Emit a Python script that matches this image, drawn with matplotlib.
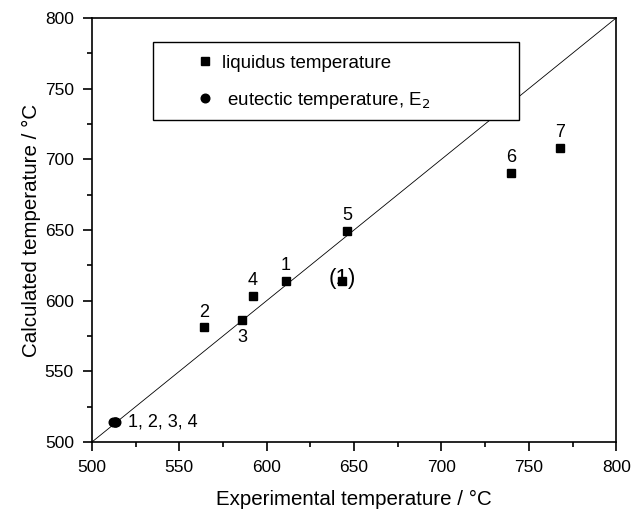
import numpy as np
import matplotlib.pyplot as plt
from matplotlib.ticker import MultipleLocator
from matplotlib.patches import Rectangle

plt.rcParams['font.family'] = ['Liberation Sans', 'DejaVu Sans']

# liquidus temperatures, experimental vs calculated
liq_exp = [611, 564, 586, 592, 646, 740, 768, 643]
liq_calc = [614, 581, 586, 603, 649, 690, 708, 614]
liq_lab = ['1', '2', '3', '4', '5', '6', '7', '(1)']

# eutectic E2, samples 1-4
eut_exp = [512, 513, 513, 514]
eut_calc = [514, 514, 514, 514]

fig = plt.figure(figsize=(6.34, 5.11), dpi=100)
ax = fig.add_axes([0.145, 0.135, 0.827, 0.83])

ax.plot([500, 800], [500, 800], color='black', lw=0.6)
ax.plot(liq_exp, liq_calc, 's', color='black', ms=6.2, ls='none', label='liquidus temperature', zorder=3)
ax.plot(eut_exp, eut_calc, 'o', color='black', ms=6.2, ls='none', label=' eutectic temperature, E$_2$', zorder=3)

for xx, yy, t in zip(liq_exp, liq_calc, liq_lab):
    if t == '3':
        ax.annotate(t, (xx, yy), xytext=(0, -6), textcoords='offset points',
                    ha='center', va='top', fontsize=13)
    elif t == '(1)':
        ax.annotate(t, (xx, yy), xytext=(0, 2), textcoords='offset points',
                    ha='center', va='center', fontsize=16, zorder=2)
    else:
        ax.annotate(t, (xx, yy), xytext=(0, 5), textcoords='offset points',
                    ha='center', va='bottom', fontsize=13)
ax.annotate('1, 2, 3, 4', (eut_exp[-1], eut_calc[-1]), xytext=(8, 0),
            textcoords='offset points', ha='left', va='center', fontsize=13)

ax.set_xlim(500, 800)
ax.set_ylim(500, 800)
ax.xaxis.set_major_locator(MultipleLocator(50))
ax.xaxis.set_minor_locator(MultipleLocator(25))
ax.yaxis.set_major_locator(MultipleLocator(50))
ax.yaxis.set_minor_locator(MultipleLocator(25))
ax.tick_params(which='major', direction='out', length=6.5, width=1.2, labelsize=12.5, pad=6.5)
ax.tick_params(which='minor', direction='out', length=3.5, width=1.2)
for s in ax.spines.values():
    s.set_linewidth(1.2)

ax.set_xlabel('Experimental temperature / °C', fontsize=14.8)
ax.set_ylabel('Calculated temperature / °C', fontsize=14.8)
ax.xaxis.set_label_coords(0.5, -0.113)
ax.yaxis.set_label_coords(-0.097, 0.5)

# legend frame drawn separately so the entries can sit inside it like the original
ax.add_patch(Rectangle((0.116, 0.759), 0.699, 0.184, transform=ax.transAxes,
                       facecolor='white', edgecolor='black', lw=1.0, zorder=4))
leg = ax.legend(loc='upper left', bbox_to_anchor=(0.198, 0.913), frameon=False,
                borderaxespad=0, borderpad=0, fontsize=13.5, handlelength=1.0,
                handletextpad=0.41, labelspacing=0.95)
leg.set_zorder(5)

fig.savefig('out.png', dpi=100)
